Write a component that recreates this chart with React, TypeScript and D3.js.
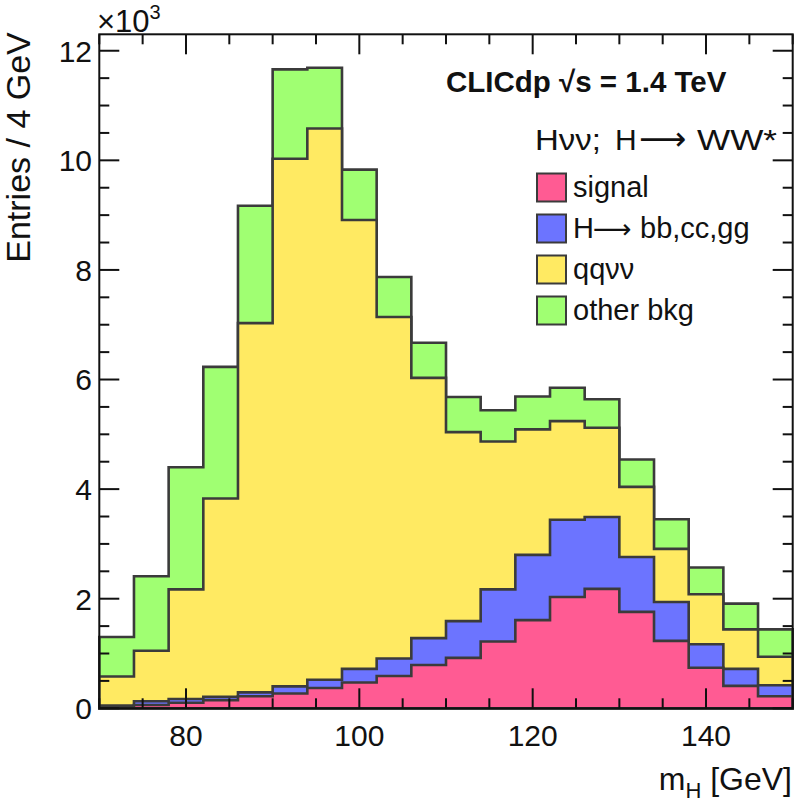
import React from 'react';
import * as d3 from 'd3';

// bin low edges [GeV], 4 GeV wide
const binLow = [70, 74, 78, 82, 86, 90, 94, 98, 102, 106, 110, 114, 118, 122, 126, 130, 134, 138, 142, 146];
const binWidth = 4;

// entries per bin, in units of 10^3
const signal = [0.02, 0.06, 0.10, 0.15, 0.22, 0.27, 0.37, 0.47, 0.59, 0.79, 0.92, 1.22, 1.61, 2.03, 2.18, 1.76, 1.23, 0.74, 0.41, 0.22];
const hOther = [0.03, 0.07, 0.07, 0.06, 0.07, 0.13, 0.15, 0.25, 0.32, 0.49, 0.67, 0.95, 1.19, 1.41, 1.31, 1.00, 0.71, 0.43, 0.31, 0.20];
const qqnunu = [0.53, 0.92, 2.00, 3.62, 6.74, 9.63, 10.06, 8.19, 6.23, 4.75, 3.45, 2.70, 2.29, 1.80, 1.63, 1.28, 0.97, 0.91, 0.72, 0.52];
const otherBkg = [0.72, 1.36, 2.23, 2.40, 2.14, 1.63, 1.11, 0.92, 0.73, 0.64, 0.64, 0.57, 0.60, 0.61, 0.52, 0.50, 0.54, 0.49, 0.47, 0.50];

const KEYS = ['signal', 'hOther', 'qqnunu', 'otherBkg'] as const;
const COLORS: Record<string, string> = {
  signal: '#ff5b93', hOther: '#6c74ff', qqnunu: '#ffea62', otherBkg: '#a0ff72',
};

const yMajor = [0, 2, 4, 6, 8, 10, 12];
const xMajor = [80, 100, 120, 140];

const W = 796;
const H = 808;
const frame = { left: 99.3, right: 792.7, top: 34.3, bottom: 708.3 };
const LINE = '#3b3b3b';
const FONT = '"Liberation Sans", Arial, Helvetica, sans-serif';
const ARROW_FONT = '"DejaVu Sans", sans-serif';

function LegendLabel({ k }: { k: string }) {
  if (k === 'hOther') {
    return (
      <text y={23.5} fontSize={29} fill="#111">
        <tspan x={36}>H</tspan>
        <tspan x={56} fontFamily={ARROW_FONT} fontSize={27}>{'\u27f6'}</tspan>
        <tspan x={103}>bb,cc,gg</tspan>
      </text>
    );
  }
  const labels: Record<string, string> = { signal: 'signal', qqnunu: 'qq\u03bd\u03bd', otherBkg: 'other bkg' };
  return <text x={36} y={23.5} fontSize={29} fill="#111">{labels[k]}</text>;
}

export default function App() {
  const x = d3.scaleLinear().domain([70, 150]).range([frame.left, frame.right]);
  const y = d3.scaleLinear().domain([0, 12.3]).range([frame.bottom, frame.top]);

  const rows = binLow.map((x0, i) => ({
    x0, signal: signal[i], hOther: hOther[i], qqnunu: qqnunu[i], otherBkg: otherBkg[i],
  }));
  const layers = d3.stack<typeof rows[0]>().keys(KEYS as unknown as string[])(rows);

  const area = d3.area<[number, number]>()
    .curve(d3.curveStepAfter)
    .x((d) => x(d[0])).y0(y(0)).y1((d) => y(d[1]));

  const paths = layers.map((layer) => {
    const pts: [number, number][] = layer.map((d, i) => [binLow[i], d[1]]);
    pts.push([binLow[binLow.length - 1] + binWidth, layer[layer.length - 1][1]]);
    return { key: layer.key, d: area(pts) || '' };
  }).reverse();

  const xMinor = d3.range(70, 150.01, 5).filter((v) => !xMajor.includes(v));
  const yMinor = d3.range(0, 12.31, 0.5).filter((v) => !yMajor.includes(v));

  return (
    <svg width={W} height={H} style={{ position: 'absolute', left: 0, top: 0, background: '#fff' }}
      fontFamily={FONT}>
      {/* stacked histograms, drawn from the top of the stack down */}
      {paths.map((p) => (
        <path key={p.key} d={p.d} fill={COLORS[p.key]} stroke={LINE} strokeWidth={2.6}
          strokeLinejoin="miter" />
      ))}

      {/* frame */}
      <rect x={frame.left} y={frame.top} width={frame.right - frame.left} height={frame.bottom - frame.top}
        fill="none" stroke="#111" strokeWidth={2} />

      {/* y ticks, both sides */}
      {yMajor.map((v) => (
        <g key={`ym${v}`}>
          <line x1={frame.left} x2={frame.left + 20} y1={y(v)} y2={y(v)} stroke="#111" strokeWidth={2} />
          <line x1={frame.right} x2={frame.right - 20} y1={y(v)} y2={y(v)} stroke="#111" strokeWidth={2} />
          <text x={92} y={y(v)} dy="0.36em" textAnchor="end" fontSize={30} fill="#111">{v}</text>
        </g>
      ))}
      {yMinor.map((v) => (
        <g key={`yn${v}`}>
          <line x1={frame.left} x2={frame.left + 10} y1={y(v)} y2={y(v)} stroke="#111" strokeWidth={2} />
          <line x1={frame.right} x2={frame.right - 10} y1={y(v)} y2={y(v)} stroke="#111" strokeWidth={2} />
        </g>
      ))}

      {/* x ticks, top and bottom */}
      {xMajor.map((v) => (
        <g key={`xm${v}`}>
          <line x1={x(v)} x2={x(v)} y1={frame.bottom} y2={frame.bottom - 20} stroke="#111" strokeWidth={2} />
          <line x1={x(v)} x2={x(v)} y1={frame.top} y2={frame.top + 20} stroke="#111" strokeWidth={2} />
          <text x={x(v)} y={746} textAnchor="middle" fontSize={30} fill="#111">{v}</text>
        </g>
      ))}
      {xMinor.map((v) => (
        <g key={`xn${v}`}>
          <line x1={x(v)} x2={x(v)} y1={frame.bottom} y2={frame.bottom - 10} stroke="#111" strokeWidth={2} />
          <line x1={x(v)} x2={x(v)} y1={frame.top} y2={frame.top + 10} stroke="#111" strokeWidth={2} />
        </g>
      ))}

      {/* exponent */}
      <text x={97} y={32} fontSize={31} fill="#111">
        {'\u00d710'}<tspan dy={-13} fontSize={20}>3</tspan>
      </text>

      {/* axis titles */}
      <text transform="translate(30,147.5) rotate(-90)" textAnchor="middle" fontSize={34} fill="#111">
        Entries / 4 GeV
      </text>
      <text x={792} y={790} textAnchor="end" fontSize={32} fill="#111">
        m<tspan dy={8} fontSize={22}>H</tspan><tspan dy={-8}> [GeV]</tspan>
      </text>

      {/* labels */}
      <text x={446} y={92} fontSize={29.5} fontWeight="bold" fill="#111">
        CLICdp {'\u221a'}s = 1.4 TeV
      </text>
      <text x={535} y={150} fontSize={30} fill="#111" textLength={66} lengthAdjust="spacingAndGlyphs">
        H{'\u03bd\u03bd'};
      </text>
      <text y={150} fontSize={30} fill="#111">
        <tspan x={615}>H</tspan>
        <tspan x={639} fontFamily={ARROW_FONT} fontSize={33}>{'\u27f6'}</tspan>
      </text>
      <text x={697} y={150} fontSize={30} fill="#111" textLength={80} lengthAdjust="spacingAndGlyphs">WW*</text>

      {/* legend */}
      {KEYS.map((k, i) => (
        <g key={k} transform={`translate(537,${173.5 + i * 41})`}>
          <rect width={29} height={28} fill={COLORS[k]} stroke={LINE} strokeWidth={2} />
          <LegendLabel k={k} />
        </g>
      ))}
    </svg>
  );
}
